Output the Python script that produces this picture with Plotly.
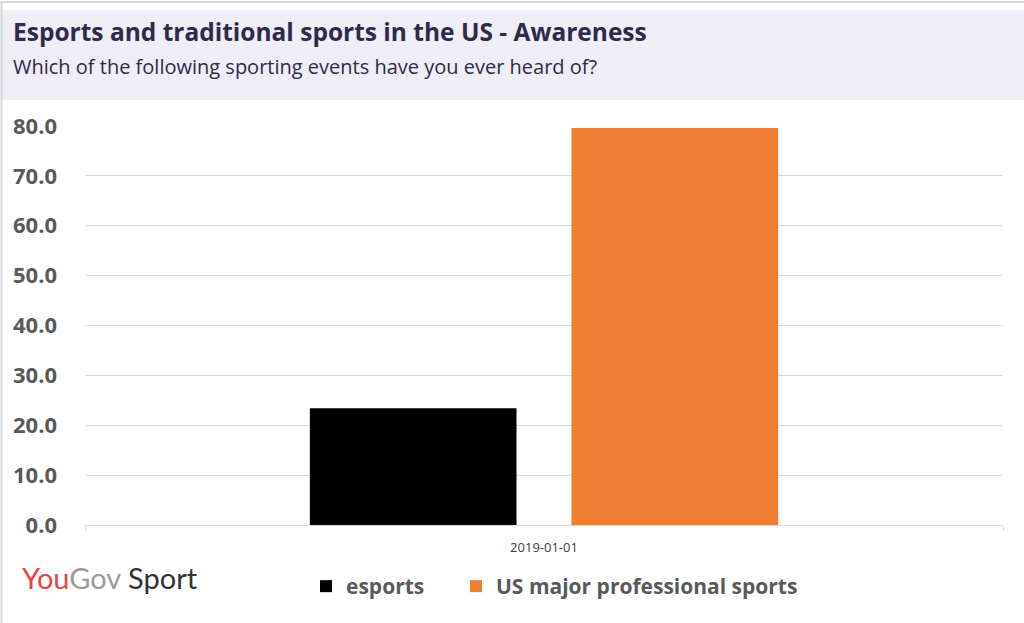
import plotly.graph_objects as go

# data
category = ["2019-01-01"]
esports = [23.4]
us_major = [79.6]
y_ticks = [0, 10, 20, 30, 40, 50, 60, 70, 80]

W, H = 1024, 623
L, R, T, B = 85, 21, 126, 98
ph = H - T - B
pw = W - L - R

def py(p):  # pixel y -> paper y
    return (H - B - p) / ph

def px(p):  # pixel x -> paper x
    return (p - L) / pw

fig = go.Figure()
fig.add_trace(go.Bar(x=category, y=esports, name="esports", legend="legend",
                     marker=dict(color="#000000", line=dict(width=0))))
fig.add_trace(go.Bar(x=category, y=us_major, name="US major professional sports",
                     legend="legend2",
                     marker=dict(color="#ED7D31", line=dict(width=0))))

legend_font = dict(size=21, color="#595959", family="Open Sans", weight="bold")
fig.update_layout(
    width=W, height=H,
    margin=dict(l=L, r=R, t=T, b=B),
    paper_bgcolor="white", plot_bgcolor="white",
    barmode="group", bargap=0.43, bargroupgap=0.21,
    font=dict(family="Open Sans", color="#595959"),
    showlegend=True,
    legend=dict(orientation="h", x=px(306), xanchor="left", y=py(566), yanchor="top",
                font=legend_font, itemwidth=30, itemclick=False),
    legend2=dict(orientation="h", x=px(456), xanchor="left", y=py(566), yanchor="top",
                 font=legend_font, itemwidth=30, itemclick=False),
)
fig.update_xaxes(type="category", showgrid=False, showline=True, linecolor="#d9d9d9",
                 linewidth=1, ticks="outside", tickson="boundaries", ticklen=5,
                 tickcolor="#d9d9d9", ticklabelstandoff=10,
                 tickfont=dict(size=13, color="#404040"))
fig.update_yaxes(range=[0, 80], tickvals=y_ticks, tickformat=".1f", showgrid=True,
                 gridcolor="#d9d9d9", gridwidth=1, zeroline=False, showline=False,
                 ticklabelstandoff=27,
                 tickfont=dict(size=22, color="#595959", family="Open Sans", weight="bold"))

# header band and frame
fig.add_shape(type="rect", xref="paper", yref="paper", x0=px(0), x1=px(W),
              y0=py(100), y1=py(10), fillcolor="#EFEDF5", line=dict(width=0), layer="below")
fig.add_shape(type="line", xref="paper", yref="paper", x0=px(0), x1=px(W),
              y0=py(2), y1=py(2), line=dict(color="#d9d9d9", width=2))
fig.add_shape(type="line", xref="paper", yref="paper", x0=px(1.5), x1=px(1.5),
              y0=py(2), y1=py(H), line=dict(color="#d9d9d9", width=2))

fig.add_annotation(xref="paper", yref="paper", x=px(11), y=py(32), xanchor="left",
                   yanchor="middle", showarrow=False,
                   text="<b>Esports and traditional sports in the US - Awareness</b>",
                   font=dict(size=24.5, color="#2F2A4A", family="Open Sans"))
fig.add_annotation(xref="paper", yref="paper", x=px(11), y=py(67), xanchor="left",
                   yanchor="middle", showarrow=False,
                   text="Which of the following sporting events have you ever heard of?",
                   font=dict(size=20, color="#2F2A4A", family="Open Sans"))

fig.add_annotation(xref="paper", yref="paper", x=px(20), y=py(577), xanchor="left",
                   yanchor="middle", showarrow=False,
                   text="<span style='color:#E8453C'>You</span><span style='color:#9B9B9B'>Gov</span>"
                        "<span style='color:#333333'> Sport</span>",
                   font=dict(size=29, family="Lato"))

# drop the default page margin so the figure sits at the window's corner
fig.write_html("out.html", config={"displayModeBar": False},
               post_script="document.body.style.margin='0';")
